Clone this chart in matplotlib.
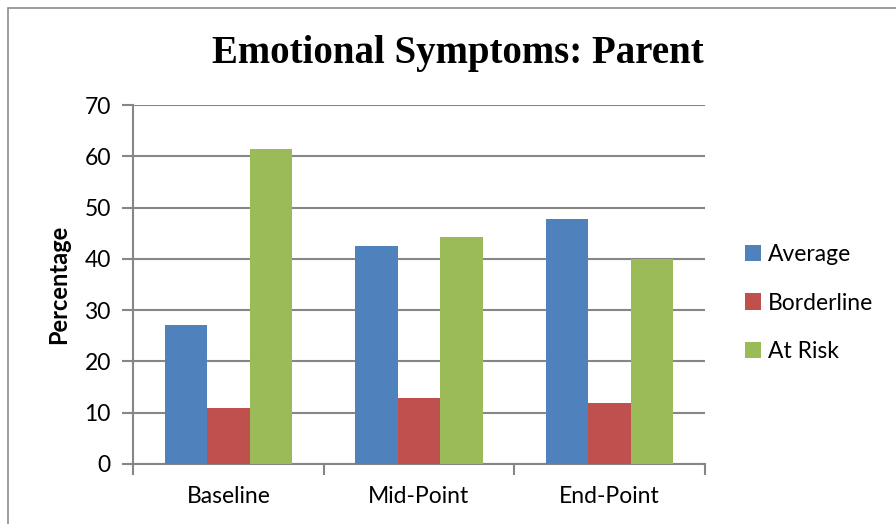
import numpy as np
import matplotlib
matplotlib.use('Agg')
import matplotlib.pyplot as plt
from matplotlib.patches import Rectangle

# data
categories = ['Baseline', 'Mid-Point', 'End-Point']
average = [27.2, 42.6, 47.7]
borderline = [10.9, 12.8, 11.9]
at_risk = [61.4, 44.3, 40.0]

plt.rcParams['font.family'] = ['Lato', 'DejaVu Sans']

fig = plt.figure(figsize=(8.96, 5.24), dpi=100)
ax = fig.add_axes([133/896, 1-464/524, (705-133)/896, (464-105)/524])

# chart border
fig.patches.append(Rectangle((8/896, -0.1), 1.2, 1-8/524+0.1, transform=fig.transFigure,
                             fill=False, edgecolor='#8c8c8c', lw=1.2))

x = np.arange(len(categories))
w = 1/4.5
cols = ['#4F81BD', '#C0504D', '#9BBB59']
for i, (vals, lab) in enumerate(zip([average, borderline, at_risk],
                                    ['Average', 'Borderline', 'At Risk'])):
    ax.bar(x + (i-1)*w, vals, w, color=cols[i], label=lab, zorder=3)

ax.set_xlim(-0.5, 2.5)
ax.set_ylim(0, 70)
ax.set_yticks(np.arange(0, 71, 10))
ax.yaxis.grid(True, color='#868686', lw=1.5, zorder=0)
ax.set_xticks(x)
ax.set_xticklabels(categories)
ax.set_xticks([-0.5, 0.5, 1.5, 2.5], minor=True)
ax.tick_params(axis='x', which='major', length=0, pad=16, labelsize=16.5)
ax.tick_params(axis='x', which='minor', length=8, width=1.5, color='#868686')
ax.tick_params(axis='y', length=8, width=1.5, color='#868686', pad=8, labelsize=16.5)

for s in ['top', 'right']:
    ax.spines[s].set_visible(False)
for s in ['left', 'bottom']:
    ax.spines[s].set_color('#868686')
    ax.spines[s].set_linewidth(1.5)

ax.set_ylabel('Percentage', fontsize=17, fontweight='bold', labelpad=10)

fig.text(458/896, 1-53/524, 'Emotional Symptoms: Parent', ha='center', va='center',
         fontsize=28, fontweight='bold', family=['Liberation Serif', 'DejaVu Serif'])

fig.legend(loc='center left', bbox_to_anchor=(724/896, 1-303/524), frameon=False,
           fontsize=16.5, handlelength=0.7, handleheight=0.7, handletextpad=0.3,
           labelspacing=1.2)

fig.savefig('out.png', dpi=100, facecolor='w')
